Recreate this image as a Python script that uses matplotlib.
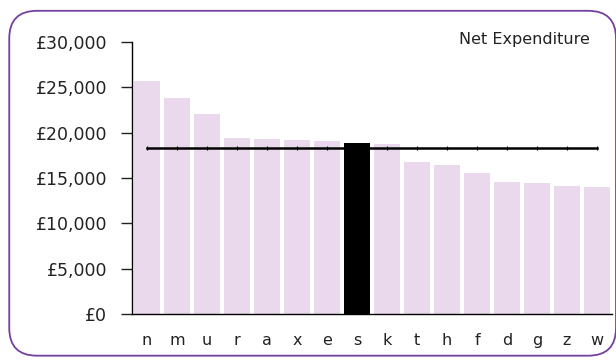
import matplotlib.pyplot as plt
from matplotlib.patches import FancyBboxPatch

# data
areas = ['n', 'm', 'u', 'r', 'a', 'x', 'e', 's', 'k', 't', 'h', 'f', 'd', 'g', 'z', 'w']
spend = [25700, 23800, 22050, 19400, 19300, 19200, 19100, 18900,
         18700, 16750, 16400, 15500, 14550, 14450, 14100, 14000]
average = 18300
highlight = 's'

bar_col = '#ead9ec'
hi_col = '#000000'
border_col = '#7440a0'

fig = plt.figure(figsize=(6.16, 3.6), dpi=100)
ax = fig.add_axes([0.2143, 0.1278, 0.7792, 0.7555])

cols = [hi_col if a == highlight else bar_col for a in areas]
ax.bar(range(len(areas)), spend, width=0.84, color=cols, zorder=2)
ax.plot(range(len(areas)), [average] * len(areas), color='black', lw=1.8,
        marker='|', markersize=2.5, markeredgewidth=0.8, zorder=3)

ax.set_xlim(-0.5, len(areas) - 0.5)
ax.set_ylim(0, 30000)
ax.set_yticks(range(0, 30001, 5000))
ax.set_yticklabels(['£{:,}'.format(v) for v in range(0, 30001, 5000)])
ax.set_xticks(range(len(areas)))
ax.set_xticklabels(areas)

for s in ['top', 'right']:
    ax.spines[s].set_visible(False)
ax.spines['left'].set_linewidth(1)
ax.spines['bottom'].set_linewidth(1)
ax.tick_params(axis='y', length=8, width=1, labelsize=12.5, pad=10, colors='#222222')
ax.tick_params(axis='x', length=0, labelsize=11.5, pad=14, colors='#222222')
ax.patch.set_visible(False)

fig.text(0.958, 0.889, 'Net Expenditure', ha='right', va='center',
         fontsize=11.5, color='#222222')

# rounded frame round the whole chart
frame = FancyBboxPatch((0.015, 0.012), 0.985, 0.958,
                       boxstyle='round,pad=0,rounding_size=0.045',
                       transform=fig.transFigure, fill=False,
                       edgecolor=border_col, linewidth=1.3, mutation_aspect=616/360)
fig.patches.append(frame)

fig.savefig('out.png', dpi=100)
